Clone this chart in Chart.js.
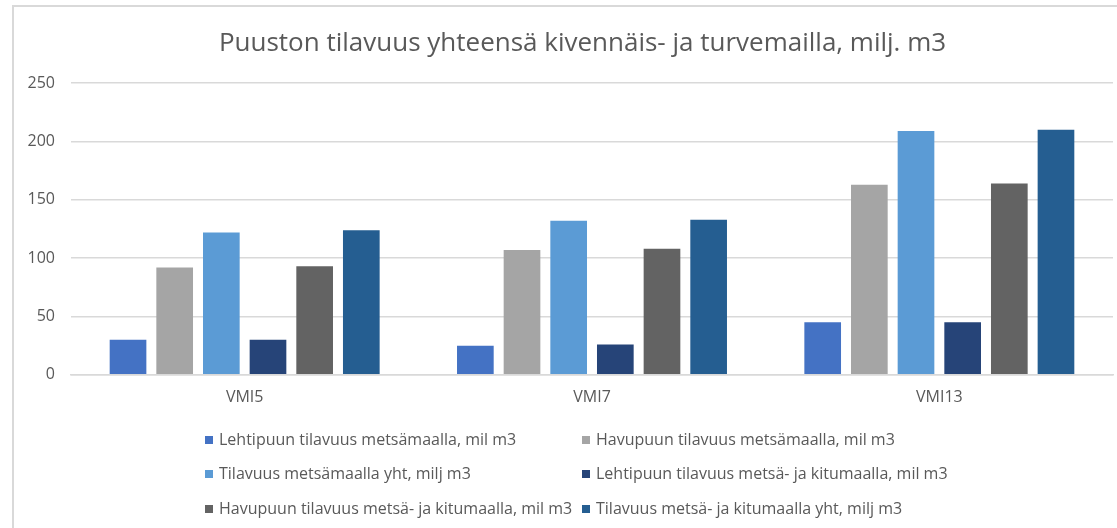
<!DOCTYPE html>
<html>
<head>
<meta charset="utf-8">
<script src="https://cdn.jsdelivr.net/npm/chart.js@4.4.1/dist/chart.umd.min.js"></script>
<style>
  html, body { margin: 0; padding: 0; background: #fff; }
  #wrap { position: relative; width: 1117px; height: 528px; overflow: hidden; }
  #frame { position: absolute; left: 12px; top: 5px; width: 1200px; height: 600px; border: 2px solid #d9d9d9; box-sizing: border-box; }
  #chart { position: absolute; left: 0; top: 0; }
  #legend { position: absolute; left: 0; top: 0; font-family: "Open Sans", sans-serif; font-size: 16px; color: #595959; }
  .item { position: absolute; white-space: nowrap; line-height: 18px; }
  .box { display: inline-block; width: 8px; height: 8px; margin-right: 6px; vertical-align: 1px; }
</style>
</head>
<body>
<div id="wrap">
  <div id="frame"></div>
  <!-- the original chart goes on past the right edge of the picture -->
  <canvas id="chart" width="1165" height="528"></canvas>
  <div id="legend"></div>
</div>
<script>
// Puuston tilavuus, milj. m3
const categories = ['VMI5', 'VMI7', 'VMI13'];

const seriesNames = [
  'Lehtipuun tilavuus metsämaalla, mil m3',
  'Havupuun tilavuus metsämaalla, mil m3',
  'Tilavuus metsämaalla yht, milj m3',
  'Lehtipuun tilavuus metsä- ja kitumaalla, mil m3',
  'Havupuun tilavuus metsä- ja kitumaalla, mil m3',
  'Tilavuus metsä- ja kitumaalla yht, milj m3'
];

const lehtiMetsa = [30, 25, 45];
const havuMetsa = [92, 107, 163];
const yhtMetsa = [122, 132, 209];
const lehtiKitu = [30, 26, 45];
const havuKitu = [93, 108, 164];
const yhtKitu = [124, 133, 210];

const yTicks = [0, 50, 100, 150, 200, 250];

const seriesValues = [lehtiMetsa, havuMetsa, yhtMetsa, lehtiKitu, havuKitu, yhtKitu];
const seriesColors = ['#4472C4', '#A5A5A5', '#5B9BD5', '#264478', '#636363', '#255E91'];

const FONT = '"Open Sans", sans-serif';
const TXT = '#595959';
const GRID = '#d9d9d9';

const datasets = seriesNames.map((name, i) => ({
  label: name,
  data: seriesValues[i],
  backgroundColor: seriesColors[i],
  borderWidth: 0,
  categoryPercentage: 0.806,
  barPercentage: 0.786
}));

// the title sits centred on the full (uncropped) chart, a bit right of the canvas centre
const shiftTitle = {
  id: 'shiftTitle',
  afterLayout(chart) {
    const t = chart.titleBlock;
    if (t) { t.left += 26; t.right += 26; }
  }
};

const chart = new Chart(document.getElementById('chart'), {
  type: 'bar',
  data: { labels: categories, datasets },
  plugins: [shiftTitle],
  options: {
    responsive: false,
    animation: false,
    layout: { padding: { left: 0, right: 52, top: 0, bottom: 108 } },
    plugins: {
      legend: { display: false },
      tooltip: { enabled: false },
      title: {
        display: true,
        text: 'Puuston tilavuus yhteensä kivennäis- ja turvemailla, milj. m3',
        color: TXT,
        font: { family: FONT, size: 26, weight: 'normal' },
        padding: { top: 28, bottom: 24 }
      }
    },
    scales: {
      x: {
        grid: { display: false, drawTicks: false },
        border: { display: true, color: GRID, width: 1.5 },
        ticks: { color: TXT, font: { family: FONT, size: 16 }, padding: 13 }
      },
      y: {
        min: 0,
        max: 250,
        afterFit: s => { s.width = 71; },
        afterBuildTicks: s => { s.ticks = yTicks.map(v => ({ value: v })); },
        grid: { color: GRID, lineWidth: 1.5, drawTicks: false },
        border: { display: false },
        ticks: { color: TXT, font: { family: FONT, size: 16 }, padding: 16 }
      }
    }
  }
});

// legend in two columns, like the original
const legendEl = document.getElementById('legend');
const colX = [205, 582];
const rowY = [439, 473, 508];
chart.data.datasets.forEach((ds, i) => {
  const item = document.createElement('div');
  item.className = 'item';
  item.style.left = colX[i % 2] + 'px';
  item.style.top = (rowY[Math.floor(i / 2)] - 9) + 'px';
  const box = document.createElement('span');
  box.className = 'box';
  box.style.background = ds.backgroundColor;
  item.appendChild(box);
  item.appendChild(document.createTextNode(ds.label));
  legendEl.appendChild(item);
});
</script>
</body>
</html>
